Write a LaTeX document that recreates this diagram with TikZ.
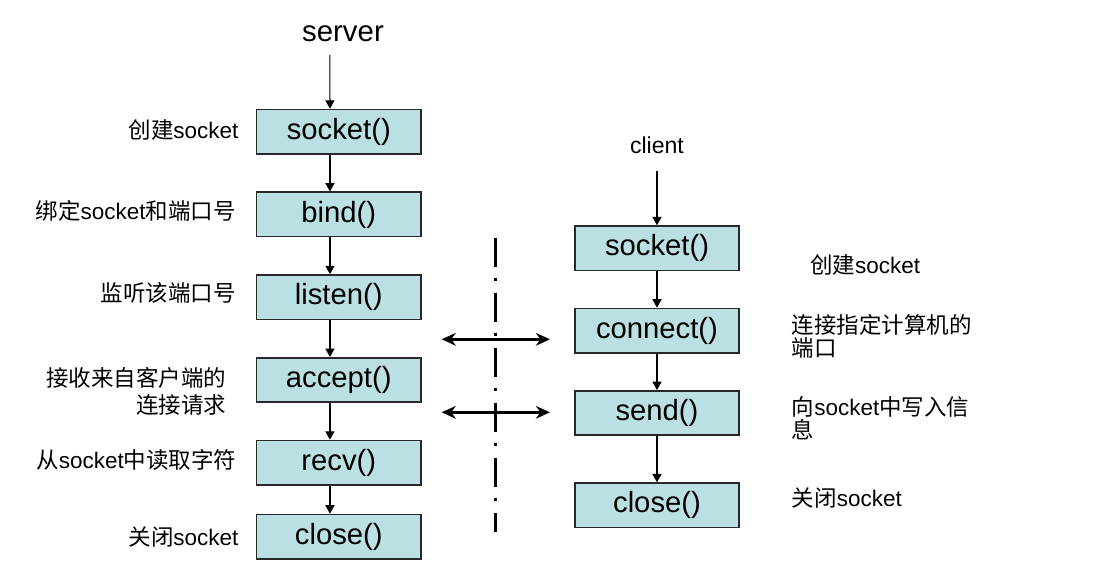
\documentclass[tikz,border=0pt]{standalone}
\usepackage{fontspec}
\setmainfont{Liberation Sans}
\newfontfamily\cjk{Noto Sans CJK SC}
\usetikzlibrary{positioning,arrows.meta}
\definecolor{boxfill}{RGB}{187,224,227}
\definecolor{boxline}{RGB}{40,40,40}

\begin{document}
\begin{tikzpicture}[
    call/.style={draw=boxline, fill=boxfill, line width=1.1pt, rectangle, minimum width=4.11cm, minimum height=1.11cm, inner sep=0pt, font=\fontsize{20.8pt}{25pt}\selectfont},
    title/.style={inner sep=0pt, anchor=base},
    note/.style={inner sep=0pt, align=left, font=\fontsize{16pt}{16.4pt}\selectfont},
    flow/.style={-{Triangle[width=6.5pt,length=6pt]}, line width=0.8pt},
    link/.style={{Stealth[length=10pt,width=9pt]}-{Stealth[length=10pt,width=9pt]}, line width=2pt},
    divider/.style={line width=2pt, dash pattern=on 0.725cm off 0.275cm on 0.075cm off 0.3cm}
]
    \useasboundingbox (0,0) rectangle (27.725,-14.55);

    % Server blocks
    \node[title, font=\fontsize{20.9pt}{25pt}\selectfont] (server) at (8.575,-1.0425) {server};
    \node[call] (ssocket) at (8.469,-3.2925) {socket()};
    \node[call, below=0.92cm of ssocket] (sbind) {bind()};
    \node[call, below=0.92cm of sbind] (slisten) {listen()};
    \node[call, below=0.92cm of slisten] (saccept) {accept()};
    \node[call, below=0.92cm of saccept] (srecv) {recv()};
    \node[call, below=0.7cm of srecv] (sclose) {close()};

    % Client blocks
    \node[title, font=\fontsize{16.4pt}{20pt}\selectfont] (client) at (16.425,-3.85) {client};
    \node[call] (csocket) at (16.425,-6.2075) {socket()};
    \node[call, below=0.91cm of csocket] (cconnect) {connect()};
    \node[call, below=0.91cm of cconnect] (csend) {send()};
    \node[call, below=1.16cm of csend] (cclose) {close()};

    % Server notes
    \node[note, left=0.425cm of ssocket, yshift=0.04cm] (nssocket) {{\cjk 创建}socket};
    \node[note, left=0.5cm of sbind, yshift=0.095cm] (nsbind) {{\cjk 绑定}socket{\cjk 和端口号}};
    \node[note, left=0.5cm of slisten, yshift=0.1cm] (nslisten) {\cjk 监听该端口号};
    \node[note, align=right, font=\fontsize{16pt}{19pt}\selectfont, left=0.73cm of saccept, yshift=-0.285cm] (nsaccept) {\cjk 接收来自客户端的\\\cjk 连接请求};
    \node[note, left=0.48cm of srecv, yshift=0.07cm] (nsrecv) {{\cjk 从}socket{\cjk 中读取字符}};
    \node[note, left=0.425cm of sclose] (nsclose) {{\cjk 关闭}socket};

    % Client notes
    \node[note, right=1.75cm of csocket, yshift=-0.4175cm] (ncsocket) {{\cjk 创建}socket};
    \node[note, right=1.29cm of cconnect, yshift=-0.145cm] (ncconnect) {\cjk 连接指定计算机的\\\cjk 端口};
    \node[note, right=1.29cm of csend, yshift=-0.13cm] (ncsend) {{\cjk 向}socket{\cjk 中写入信}\\\cjk 息};
    \node[note, right=1.29cm of cclose, yshift=0.19cm] (ncclose) {{\cjk 关闭}socket};

    % Arrows
    \draw[flow, shorten <=0.315cm] ([xshift=-0.33cm]server.south) -- ([xshift=-0.22cm]ssocket.north);
    \draw[flow] ([xshift=-0.22cm]ssocket.south) -- ([xshift=-0.22cm]sbind.north);
    \draw[flow] ([xshift=-0.22cm]sbind.south) -- ([xshift=-0.22cm]slisten.north);
    \draw[flow] ([xshift=-0.22cm]slisten.south) -- ([xshift=-0.22cm]saccept.north);
    \draw[flow] ([xshift=-0.22cm]saccept.south) -- ([xshift=-0.22cm]srecv.north);
    \draw[flow] ([xshift=-0.22cm]srecv.south) -- ([xshift=-0.22cm]sclose.north);
    \draw[flow, shorten <=0.4cm] (client.south) -- (csocket.north);
    \draw[flow] (csocket) -- (cconnect);
    \draw[flow] (cconnect) -- (csend);
    \draw[flow] (csend) -- (cclose);

    % Divider and exchange
    \coordinate (lcl) at (11.0425,-8.4825);
    \coordinate (lcr) at (13.75,-8.4825);
    \coordinate (lsl) at (11.0425,-10.3075);
    \coordinate (lsr) at (13.75,-10.3075);
    \draw[divider] (12.3925,-5.9425) -- (12.3925,-13.2925);
    \draw[link] (lcl) -- (lcr);
    \draw[link] (lsl) -- (lsr);
\end{tikzpicture}
\end{document}
